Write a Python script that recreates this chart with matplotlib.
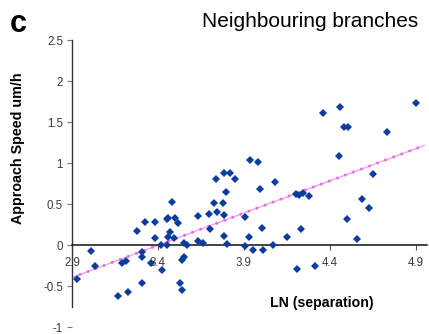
import numpy as np
import matplotlib as mpl
import matplotlib.pyplot as plt
mpl.use('agg')

plt.rcParams['font.family'] = ['Liberation Sans', 'DejaVu Sans']

##--##--##--  data  --##--##--##
ln_sep = [2.929, 3.009, 3.034, 3.166, 3.224, 3.189, 3.214, 3.276, 3.305, 3.305,
          3.305, 3.326, 3.359, 3.384, 3.384, 3.422, 3.417, 3.451, 3.480, 3.451,
          3.460, 3.499, 3.518, 3.470, 3.460, 3.495, 3.538, 3.551, 3.528, 3.538,
          3.551, 3.570, 3.635, 3.698, 3.634, 3.663, 3.702, 3.726, 3.776, 3.746,
          3.784, 3.795, 3.737, 3.784, 3.819, 3.846, 3.937, 3.983, 3.995, 4.080,
          3.906, 3.784, 3.929, 3.799, 3.906, 3.951, 4.009, 4.006, 4.070, 4.148,
          4.233, 4.206, 4.313, 4.201, 4.220, 4.245, 4.278, 4.361, 4.461, 4.900,
          4.485, 4.508, 4.733, 4.452, 4.650, 4.586, 4.627, 4.502, 4.557]
speed = [-0.409, -0.067, -0.250, -0.616, -0.563, -0.217, -0.189, 0.180, -0.076, -0.137,
         -0.461, 0.290, -0.217, 0.290, 0.095, -0.299, 0.006, 0.006, 0.534, 0.320,
         0.332, 0.332, 0.271, 0.168, 0.100, 0.095, -0.177, -0.144, -0.454, -0.543,
         0.027, 0.006, 0.360, 0.384, 0.055, 0.027, 0.198, 0.515, 0.524, 0.405,
         0.372, 0.652, 0.807, 0.880, 0.884, 0.811, 1.043, 1.024, 0.693, 0.778,
         0.344, 0.110, 0.104, 0.018, -0.006, -0.055, -0.055, 0.213, 0.006, 0.100,
         0.207, -0.290, -0.250, 0.628, 0.616, 0.637, 0.604, 1.612, 1.685, 1.734,
         1.441, 1.441, 1.384, 1.095, 0.872, 0.567, 0.461, 0.320, 0.079]

trend_x = [2.9, 4.95]
trend_y = [-0.39, 1.22]

xticks = [2.9, 3.4, 3.9, 4.4, 4.9]
xtick_labels = ['2.9', '3.4', '3.9', '4.4', '4.9']
yticks = [-1, -0.5, 0, 0.5, 1, 1.5, 2, 2.5]
ytick_labels = ['-1', '-0.5', '0', '0.5', '1', '1.5', '2', '2.5']


##--##--##--  create figure  --##--##--##
fig = plt.figure(figsize=(4.29, 3.34), dpi=100)
ax = plt.axes([0.1678, 0.0195, 0.8275, 0.8593])

ax.plot(trend_x, trend_y, color='#f29af2', lw=0.9, zorder=2)
ax.plot(trend_x, trend_y, color='#e36ee3', lw=2.2, zorder=2,
        linestyle=(0, (0.01, 2.8)), dash_capstyle='round')
ax.plot(ln_sep, speed, 'D', color='#0b3c9e', ms=3.8, mew=0, zorder=3)

ax.set_xlim(2.9, 4.965)
ax.set_ylim(-1.0, 2.5)

ax.spines['top'].set_visible(False)
ax.spines['right'].set_visible(False)
ax.spines['bottom'].set_position(('data', 0))
ax.spines['bottom'].set_linewidth(1.1)
ax.spines['bottom'].set_color('#111111')
ax.spines['left'].set_linewidth(1.0)
ax.spines['left'].set_color('#333333')
ax.spines['left'].set_bounds(-0.75, 2.5)

ax.set_xticks(xticks, xtick_labels)
ax.set_yticks(yticks, ytick_labels)
ax.tick_params(axis='x', direction='out', length=3.5, width=0.8, color='#555555',
               labelsize=8.3, labelcolor='#3a3a3a', pad=5)
ax.tick_params(axis='y', direction='out', length=3.5, width=0.8, color='#777777',
               labelsize=8.3, labelcolor='#3a3a3a', pad=3)

fig.text(0.023, 0.928, 'c', fontsize=22, fontweight='bold', va='center', ha='left')
fig.text(0.974, 0.935, 'Neighbouring branches', fontsize=15, ha='right', va='center')
fig.text(0.042, 0.555, 'Approach Speed um/h', fontsize=10.3, fontweight='bold',
         rotation=90, ha='center', va='center')
fig.text(0.751, 0.093, 'LN (separation)', fontsize=10.2, fontweight='bold',
         ha='center', va='center')

fig.savefig('out.png', dpi=100)
